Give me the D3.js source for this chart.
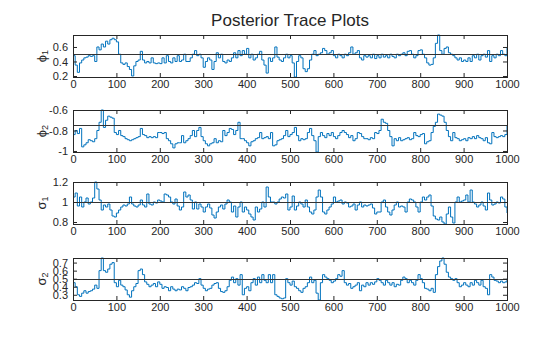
<!DOCTYPE html>
<html>
<head>
<meta charset="utf-8">
<script src="https://cdn.jsdelivr.net/npm/d3@7"></script>
<style>
  body { margin: 0; background: #fff; }
  svg { display: block; }
  text { font-family: "Liberation Sans", Arial, Helvetica, sans-serif; fill: #262626; }
</style>
</head>
<body>
<script>
// MCMC draws, recorded every 5th iteration (0, 5, ..., 1000)
const phi1 = [
  0.48,0.35,0.25,0.38,0.42,0.45,0.46,0.48,0.47,0.48,0.40,0.60,0.56,0.64,0.60,0.68,0.64,0.70,0.72,0.70,
  0.67,0.50,0.38,0.36,0.38,0.33,0.29,0.20,0.34,0.40,0.42,0.54,0.42,0.38,0.40,0.38,0.45,0.38,0.37,0.38,
  0.37,0.45,0.38,0.48,0.40,0.38,0.45,0.40,0.48,0.40,0.42,0.50,0.40,0.40,0.45,0.50,0.55,0.48,0.50,0.45,
  0.32,0.40,0.45,0.42,0.29,0.40,0.52,0.45,0.50,0.40,0.38,0.42,0.40,0.45,0.52,0.45,0.55,0.48,0.55,0.50,
  0.58,0.45,0.50,0.42,0.45,0.50,0.54,0.42,0.35,0.24,0.45,0.40,0.45,0.60,0.46,0.42,0.40,0.45,0.50,0.45,
  0.48,0.38,0.186,0.40,0.48,0.45,0.30,0.26,0.30,0.42,0.50,0.55,0.48,0.50,0.52,0.58,0.55,0.50,0.52,0.55,
  0.48,0.45,0.50,0.48,0.45,0.50,0.48,0.52,0.60,0.50,0.52,0.55,0.45,0.42,0.48,0.46,0.48,0.45,0.50,0.44,
  0.48,0.45,0.50,0.46,0.48,0.45,0.50,0.47,0.45,0.50,0.48,0.50,0.52,0.48,0.54,0.55,0.50,0.45,0.48,0.55,
  0.56,0.50,0.45,0.38,0.35,0.36,0.45,0.65,0.765,0.55,0.50,0.58,0.60,0.52,0.50,0.48,0.45,0.42,0.45,0.40,
  0.42,0.40,0.45,0.40,0.48,0.45,0.50,0.42,0.48,0.50,0.46,0.55,0.40,0.48,0.45,0.50,0.48,0.55,0.50,0.48,
  0.60
];
const phi2 = [
  -0.84,-0.80,-0.83,-0.78,-0.96,-0.94,-0.92,-0.89,-0.90,-0.91,-0.88,-0.80,-0.72,-0.60,-0.77,-0.70,-0.66,-0.67,-0.68,-0.82,
  -0.84,-0.80,-0.85,-0.86,-0.88,-0.89,-0.90,-0.89,-0.88,-0.87,-0.86,-0.78,-0.84,-0.85,-0.87,-0.86,-0.87,-0.86,-0.87,-0.82,
  -0.82,-0.83,-0.82,-0.88,-0.90,-0.93,-0.97,-0.93,-0.92,-0.92,-0.85,-0.92,-0.90,-0.88,-0.85,-0.80,-0.86,-0.80,-0.77,-0.86,
  -0.90,-0.93,-0.95,-0.93,-0.92,-0.88,-0.92,-0.90,-0.91,-0.80,-0.85,-0.82,-0.78,-0.79,-0.84,-0.80,-0.72,-0.88,-0.88,-0.90,
  -0.92,-0.95,-0.91,-0.90,-0.88,-0.87,-0.82,-0.88,-0.87,-0.86,-0.88,-0.82,-0.95,-0.94,-0.90,-0.89,-0.88,-0.85,-0.80,-0.86,
  -0.84,-0.82,-0.77,-0.85,-0.90,-0.88,-0.89,-0.88,-0.82,-0.78,-0.85,-0.90,-1.01,-0.86,-0.82,-0.85,-0.87,-0.83,-0.85,-0.82,
  -0.86,-0.88,-0.85,-0.82,-0.80,-0.82,-0.84,-0.87,-0.85,-0.90,-0.88,-0.82,-0.83,-0.86,-0.88,-0.88,-0.89,-0.87,-0.88,-0.82,
  -0.83,-0.80,-0.69,-0.72,-0.73,-0.80,-0.86,-0.95,-0.88,-0.90,-0.87,-0.90,-0.89,-0.88,-0.87,-0.89,-0.88,-0.82,-0.85,-0.86,
  -0.84,-0.83,-0.93,-0.91,-0.90,-0.82,-0.76,-0.72,-0.64,-0.65,-0.66,-0.72,-0.80,-0.86,-0.90,-0.82,-0.87,-0.88,-0.90,-0.89,
  -0.88,-0.90,-0.87,-0.88,-0.86,-0.88,-0.85,-0.87,-0.88,-0.90,-0.87,-0.92,-0.93,-0.82,-0.86,-0.87,-0.86,-0.85,-0.86,-0.84,
  -0.75
];
const sigma1 = [
  1.05,1.09,0.96,1.05,0.95,1.00,1.04,0.98,1.00,1.04,1.20,1.13,1.02,0.92,0.97,0.95,0.98,0.92,0.86,0.85,
  0.89,0.92,0.95,0.97,0.96,0.98,1.05,0.98,0.96,0.95,0.97,1.02,0.97,0.95,1.08,0.98,0.97,1.00,0.99,1.02,
  1.01,1.00,1.08,1.07,1.05,1.00,0.98,1.03,0.96,0.92,0.95,1.10,1.05,1.07,1.02,0.93,1.00,0.93,0.98,0.95,
  0.90,0.95,0.98,0.94,0.87,0.84,0.90,0.95,0.97,0.93,0.98,1.02,1.00,0.90,0.96,0.85,0.95,1.00,0.90,0.95,
  0.92,0.88,0.85,0.82,0.95,0.90,0.93,1.00,0.95,1.15,1.05,1.00,1.00,0.98,1.00,1.03,1.05,1.04,1.08,0.92,
  0.95,1.06,0.92,0.96,1.00,0.98,0.95,1.02,0.95,0.90,0.88,0.92,1.05,1.12,1.05,0.90,0.88,0.92,0.95,0.98,
  1.05,1.00,1.01,1.02,0.98,1.00,0.99,0.95,0.96,0.98,0.92,0.97,1.00,0.95,0.97,0.96,0.97,0.98,0.94,0.88,
  0.90,0.90,1.00,1.02,0.95,0.90,0.87,0.92,0.97,1.00,0.95,0.96,0.95,0.90,1.00,1.03,1.02,1.00,0.95,0.90,
  1.00,1.05,1.02,1.05,1.07,0.96,0.86,0.83,0.82,0.85,0.80,0.78,0.88,0.95,0.85,0.79,1.00,1.05,1.00,1.01,
  1.02,1.07,1.00,1.12,1.00,0.98,0.95,0.97,1.00,0.96,0.92,1.09,1.02,0.97,0.98,1.00,0.99,1.05,1.03,0.95,
  0.89
];
const sigma2 = [
  0.45,0.40,0.30,0.28,0.32,0.35,0.32,0.34,0.35,0.37,0.42,0.38,0.60,0.757,0.60,0.58,0.62,0.68,0.70,0.45,
  0.40,0.48,0.42,0.40,0.36,0.30,0.27,0.35,0.40,0.44,0.60,0.62,0.55,0.46,0.43,0.40,0.42,0.44,0.40,0.46,
  0.43,0.38,0.40,0.39,0.35,0.40,0.37,0.35,0.37,0.36,0.40,0.38,0.35,0.39,0.40,0.42,0.45,0.44,0.50,0.42,
  0.38,0.35,0.37,0.38,0.42,0.44,0.45,0.38,0.34,0.33,0.35,0.40,0.48,0.52,0.45,0.50,0.42,0.55,0.30,0.38,
  0.40,0.35,0.45,0.50,0.42,0.52,0.45,0.55,0.48,0.45,0.55,0.45,0.55,0.30,0.28,0.26,0.25,0.26,0.50,0.45,
  0.42,0.47,0.40,0.38,0.35,0.33,0.38,0.40,0.45,0.52,0.45,0.48,0.32,0.235,0.45,0.55,0.52,0.50,0.48,0.45,
  0.47,0.50,0.55,0.53,0.60,0.45,0.42,0.44,0.38,0.40,0.42,0.45,0.35,0.42,0.40,0.45,0.42,0.45,0.43,0.46,
  0.50,0.48,0.45,0.42,0.48,0.45,0.42,0.45,0.40,0.43,0.42,0.48,0.52,0.50,0.45,0.48,0.45,0.42,0.48,0.55,
  0.50,0.45,0.38,0.37,0.35,0.38,0.33,0.55,0.65,0.72,0.757,0.68,0.58,0.52,0.50,0.48,0.50,0.45,0.40,0.42,
  0.45,0.42,0.40,0.45,0.42,0.48,0.45,0.42,0.48,0.40,0.38,0.30,0.55,0.52,0.48,0.47,0.45,0.47,0.45,0.46,
  0.50
];

const iterations = d3.range(0, 1001, 5);
const trueValues = [0.5, -0.75, 1, 0.5];
const paramNames = [["\u03D5", "1"], ["\u03D5", "2"], ["\u03C3", "1"], ["\u03C3", "2"]];
const yTicks = [[0.2, 0.4, 0.6], [-1, -0.8, -0.6], [0.8, 1, 1.2], [0.3, 0.4, 0.5, 0.6, 0.7]];
const xTicks = d3.range(0, 1001, 100);
const chartTitle = "Posterior Trace Plots";
const series = [phi1, phi2, sigma1, sigma2];

const W = 560, H = 337;
const left = 73, right = 507, panelH = 42;
const panelTops = [35, 110, 182, 258];
const axisColor = "#262626";
const lineColor = "#0072BD";
const fmt = d => String(+d.toFixed(2));

const svg = d3.select("body").append("svg").attr("width", W).attr("height", H);

svg.append("text")
  .attr("x", (left + right) / 2).attr("y", 26)
  .attr("text-anchor", "middle")
  .style("font-size", "17px")
  .text(chartTitle);

const x = d3.scaleLinear().domain([0, 1000]).range([left, right]);

series.forEach((vals, k) => {
  const top = panelTops[k], bottom = top + panelH;
  const y = d3.scaleLinear().domain(d3.extent(vals)).range([bottom, top]);
  const g = svg.append("g");

  // trace: a sampler holds its value until the next accepted move
  g.append("path")
    .datum(vals)
    .attr("fill", "none")
    .attr("stroke", lineColor)
    .attr("stroke-width", 1)
    .attr("d", d3.line().curve(d3.curveStepAfter).x((d, i) => x(iterations[i])).y(d => y(d)));

  // reference line at the true parameter value
  g.append("line")
    .attr("x1", left).attr("x2", right)
    .attr("y1", Math.round(y(trueValues[k])) + 0.5)
    .attr("y2", Math.round(y(trueValues[k])) + 0.5)
    .attr("stroke", "#333").attr("stroke-width", 1);

  // axes with inward ticks
  const styleAxis = sel => {
    sel.select(".domain").remove();
    sel.selectAll("line").attr("stroke", axisColor);
    sel.selectAll("text").attr("fill", axisColor).style("font-size", "11px")
      .style("font-family", "'Liberation Sans', Arial, Helvetica, sans-serif");
  };
  g.append("g").attr("transform", `translate(0,${bottom})`)
    .call(d3.axisBottom(x).tickValues(xTicks).tickSize(-4).tickPadding(3).tickFormat(d3.format("d")))
    .call(styleAxis);
  g.append("g").attr("transform", `translate(0,${top})`)
    .call(d3.axisTop(x).tickValues(xTicks).tickSize(-4).tickFormat(""))
    .call(styleAxis);
  g.append("g").attr("transform", `translate(${left},0)`)
    .call(d3.axisLeft(y).tickValues(yTicks[k]).tickSize(-4).tickPadding(5).tickFormat(fmt))
    .call(styleAxis);
  g.append("g").attr("transform", `translate(${right},0)`)
    .call(d3.axisRight(y).tickValues(yTicks[k]).tickSize(-4).tickFormat(""))
    .call(styleAxis);

  // box
  g.append("rect")
    .attr("x", left + 0.5).attr("y", top + 0.5)
    .attr("width", right - left).attr("height", panelH)
    .attr("fill", "none").attr("stroke", axisColor).attr("stroke-width", 1);

  // y label with subscript
  const lab = g.append("text")
    .attr("transform", `translate(46,${(top + bottom) / 2}) rotate(-90)`)
    .attr("text-anchor", "middle")
    .style("font-size", "13px");
  lab.append("tspan").text(paramNames[k][0]);
  lab.append("tspan").attr("dy", 2).style("font-size", "9px").text(paramNames[k][1]);
});
</script>
</body>
</html>
